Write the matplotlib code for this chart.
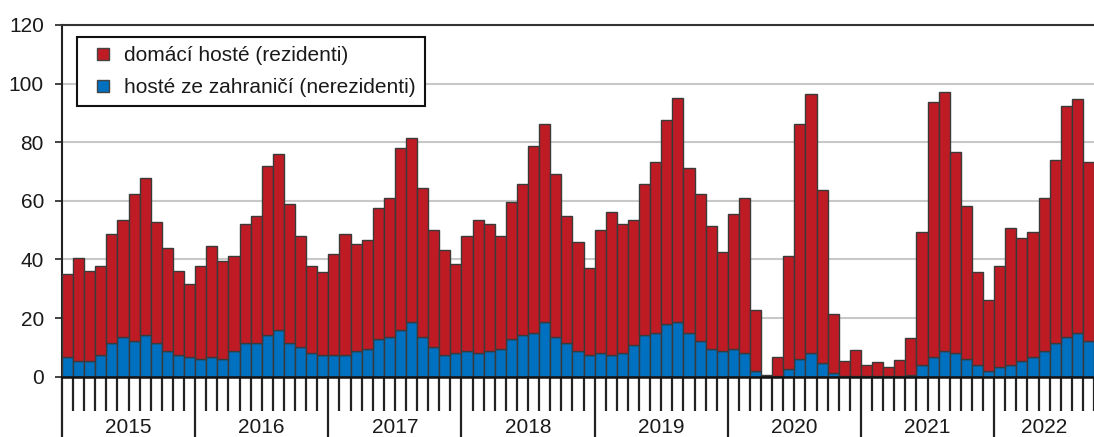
import matplotlib
matplotlib.use("Agg")
import matplotlib.pyplot as plt
from matplotlib.lines import Line2D
import numpy as np

plt.rcParams['font.family'] = ['Liberation Sans', 'DejaVu Sans']

years = ['2015', '2016', '2017', '2018', '2019', '2020', '2021', '2022']

# total guests (domestic + foreign), thousands, monthly Jan 2015 - Sep 2022
celkem = [
    34.9, 40.6, 36.2, 37.8, 48.7, 53.5, 62.3, 67.7, 52.7, 43.9, 36.2, 31.5,
    37.8, 44.5, 39.6, 41.1, 52.0, 54.8, 72.0, 76.0, 58.9, 48.0, 37.8, 35.7,
    41.9, 48.6, 45.2, 46.6, 57.6, 61.0, 78.0, 81.5, 64.4, 50.1, 43.2, 38.3,
    48.0, 53.4, 52.0, 48.0, 59.6, 65.8, 78.7, 86.1, 69.2, 54.8, 45.8, 37.1,
    50.1, 56.2, 52.1, 53.5, 65.9, 73.3, 87.6, 95.1, 71.2, 62.5, 51.4, 42.4,
    55.5, 61.0, 22.6, 0.5, 6.8, 41.2, 86.2, 96.4, 63.7, 21.4, 5.5, 9.0,
    4.1, 4.9, 3.4, 5.6, 13.1, 49.3, 93.7, 97.2, 76.6, 58.2, 35.6, 26.1,
    37.8, 50.6, 47.4, 49.3, 61.0, 73.9, 92.5, 94.7, 73.4,
]
# foreign guests (nerezidenti)
zahranicni = [
    6.8, 5.3, 5.3, 7.4, 11.6, 13.5, 12.3, 14.3, 11.6, 8.9, 7.4, 6.8,
    6.1, 6.8, 6.1, 8.9, 11.6, 11.6, 14.3, 15.8, 11.6, 10.2, 8.2, 7.5,
    7.5, 7.5, 8.9, 9.6, 13.0, 13.7, 15.8, 18.5, 13.7, 10.2, 7.4, 8.2,
    8.9, 8.2, 8.9, 9.6, 13.0, 14.3, 15.0, 18.5, 13.7, 11.6, 8.9, 7.5,
    8.2, 7.5, 8.2, 10.9, 14.3, 15.0, 17.9, 18.5, 15.0, 12.3, 9.6, 8.9,
    9.6, 8.2, 2.0, 0.1, 0.3, 2.7, 6.1, 8.2, 4.8, 1.4, 0.3, 0.3,
    0.2, 0.2, 0.2, 0.3, 0.5, 4.1, 6.8, 8.9, 8.2, 6.1, 4.1, 2.0,
    3.4, 4.1, 5.5, 6.8, 8.9, 11.6, 13.7, 15.0, 12.3,
]

labels = ['domácí hosté (rezidenti)', 'hosté ze zahraničí (nerezidenti)']
red = '#BE1B24'
blue = '#0070C0'
edge = '#3A3A3A'

celkem_a = np.array(celkem)
zahr_a = np.array(zahranicni)
domaci = celkem_a - zahr_a
n = len(celkem)
x = np.arange(n)

fig = plt.figure(figsize=(10.94, 4.37), dpi=100)
ax = fig.add_axes([62/1094, (437-376.7)/437, (1094-62)/1094, (376.7-25)/437])

ax.bar(x, zahr_a, width=1.0, color=blue, edgecolor=edge, linewidth=1.0, zorder=3)
ax.bar(x, domaci, width=1.0, bottom=zahr_a, color=red, edgecolor=edge, linewidth=1.0, zorder=3)

ax.set_ylim(0, 120)
ax.set_xlim(-0.5, 91.8)
ax.set_yticks(np.arange(0, 121, 20))
ax.yaxis.grid(True, color='#C8C8C8', linewidth=1.5, zorder=0)
ax.set_axisbelow(True)

ax.spines['right'].set_visible(False)
ax.spines['top'].set_color('#333333')
ax.spines['top'].set_linewidth(1.5)
ax.spines['left'].set_color('#222222')
ax.spines['left'].set_linewidth(1.5)
ax.spines['bottom'].set_color('#111111')
ax.spines['bottom'].set_linewidth(1.8)
ax.spines['bottom'].set_zorder(5)

ax.tick_params(axis='y', labelsize=15, length=5, width=1.2, color='#222222',
               labelcolor='#1a1a1a', pad=8)

# month ticks (minor) and year separators (major)
year_bounds = np.arange(0, n, 12) - 0.5
month_bounds = np.arange(0, n + 1) - 0.5
ax.set_xticks(year_bounds)
ax.set_xticks(month_bounds, minor=True)
ax.tick_params(axis='x', which='major', length=44, width=1.6, color='#222222',
               labelbottom=False)
ax.tick_params(axis='x', which='minor', length=24.5, width=1.6, color='#222222',
               labelbottom=False)

for i, yr in enumerate(years):
    start = i * 12
    end = min(start + 12, n)
    cx = (start + end - 1) / 2
    ax.text(cx, -0.145, yr, transform=ax.get_xaxis_transform(), ha='center',
            va='center', fontsize=15, color='#1a1a1a')

handles = [
    Line2D([], [], linestyle='none', marker='s', markersize=8,
           markerfacecolor=red, markeredgecolor='#444444', markeredgewidth=1.0),
    Line2D([], [], linestyle='none', marker='s', markersize=8,
           markerfacecolor=blue, markeredgecolor='#444444', markeredgewidth=1.0),
]
leg = ax.legend(handles, labels, loc='upper left',
                bbox_to_anchor=(15/1032, (376.7-37)/351.7),
                borderaxespad=0, fancybox=False, framealpha=1,
                edgecolor='#111111', fontsize=15, handlelength=1.6,
                handletextpad=0.2, labelspacing=0.6, borderpad=0.45)
leg.get_frame().set_linewidth(1.5)
for t in leg.get_texts():
    t.set_color('#1a1a1a')

fig.savefig('out.png', dpi=100)
